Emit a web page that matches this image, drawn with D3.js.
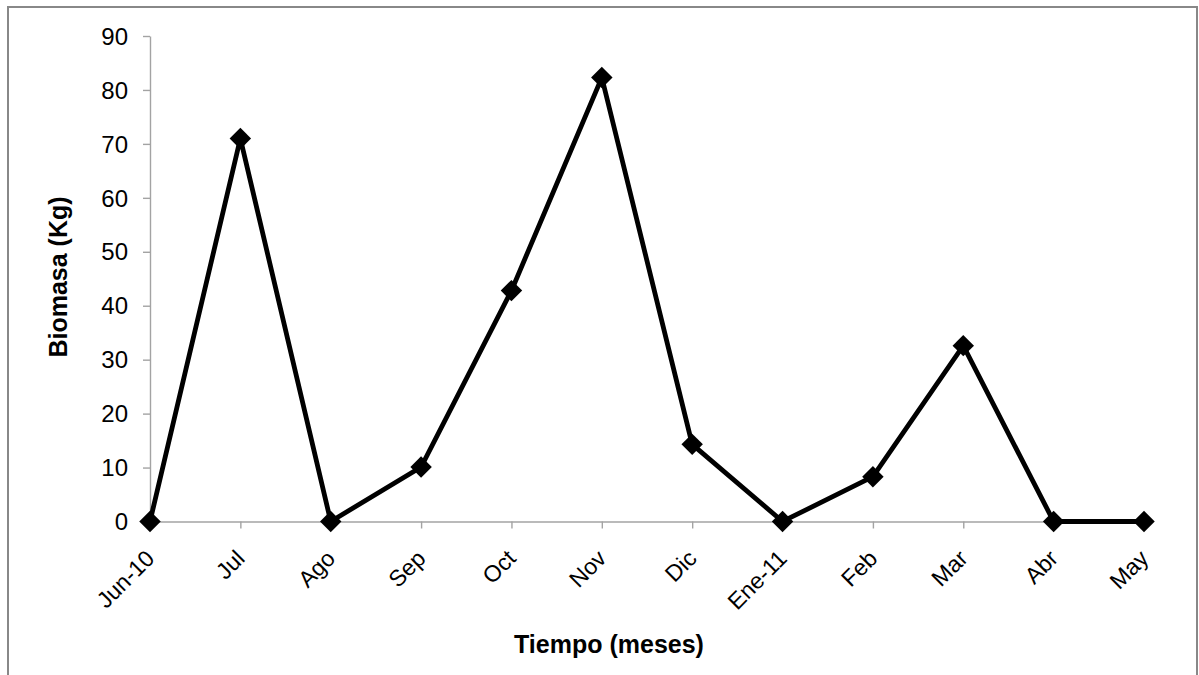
<!DOCTYPE html>
<html>
<head>
<meta charset="utf-8">
<script src="https://cdn.jsdelivr.net/npm/d3@7"></script>
<style>
  html, body { margin: 0; padding: 0; background: #ffffff; }
  svg { display: block; font-family: "Liberation Sans", Arial, sans-serif; }
</style>
</head>
<body>
<svg id="chart" width="1199" height="675"></svg>
<script>
// Monthly biomass series, June 2010 – May 2011
const months = ["Jun-10", "Jul", "Ago", "Sep", "Oct", "Nov", "Dic", "Ene-11", "Feb", "Mar", "Abr", "May"];
const biomass = [0, 71, 0, 10.1, 42.8, 82.3, 14.3, 0, 8.3, 32.6, 0, 0];
const yTicks = [0, 10, 20, 30, 40, 50, 60, 70, 80, 90];
const xTitle = "Tiempo (meses)";
const yTitle = "Biomasa (Kg)";

const svg = d3.select("#chart");

// frame around the chart area
svg.append("rect")
  .attr("x", 8).attr("y", 7)
  .attr("width", 1189).attr("height", 690)
  .attr("fill", "#ffffff")
  .attr("stroke", "#888888")
  .attr("stroke-width", 2);

const x = d3.scalePoint().domain(months).range([150, 1144]);
const y = d3.scaleLinear().domain([0, 90]).range([521.5, 36]);

const axisColor = "#a3a3a3";

// y axis
const gy = svg.append("g")
  .attr("transform", "translate(150,0)")
  .call(d3.axisLeft(y).tickValues(yTicks).tickSize(7).tickSizeOuter(0).tickPadding(15));
gy.select(".domain").attr("stroke", axisColor).attr("stroke-width", 1.4);
gy.selectAll(".tick line").attr("stroke", axisColor).attr("stroke-width", 1.4);
gy.selectAll(".tick text")
  .attr("fill", "#000")
  .style("font-size", "24px")
  .attr("dy", "0.34em");

// x axis
const gx = svg.append("g")
  .attr("transform", `translate(0,${y(0)})`)
  .call(d3.axisBottom(x).tickSize(7).tickSizeOuter(0).tickFormat(() => ""));
gx.select(".domain").attr("stroke", axisColor).attr("stroke-width", 1.4);
gx.selectAll(".tick line").attr("stroke", axisColor).attr("stroke-width", 1.4);

// rotated month labels
svg.append("g").selectAll("text")
  .data(months)
  .join("text")
  .attr("transform", d => `translate(${x(d)},554) rotate(-45)`)
  .attr("text-anchor", "end")
  .attr("dy", "0.36em")
  .style("font-size", "23px")
  .attr("fill", "#000")
  .text(d => d);

// series line
const line = d3.line()
  .x((d, i) => x(months[i]))
  .y(d => y(d));

svg.append("path")
  .datum(biomass)
  .attr("d", line)
  .attr("fill", "none")
  .attr("stroke", "#000")
  .attr("stroke-width", 4.8)
  .attr("stroke-linejoin", "miter");

// diamond markers
const diamond = d3.symbol().type(d3.symbolSquare).size(230);
svg.append("g").selectAll("path")
  .data(biomass)
  .join("path")
  .attr("transform", (d, i) => `translate(${x(months[i])},${y(d)}) rotate(45)`)
  .attr("d", diamond)
  .attr("fill", "#000");

// axis titles
svg.append("text")
  .attr("x", 609).attr("y", 653)
  .attr("text-anchor", "middle")
  .style("font-size", "25px")
  .style("font-weight", "bold")
  .text(xTitle);

svg.append("text")
  .attr("transform", "translate(67,277) rotate(-90)")
  .attr("text-anchor", "middle")
  .style("font-size", "25px")
  .style("font-weight", "bold")
  .text(yTitle);
</script>
</body>
</html>
